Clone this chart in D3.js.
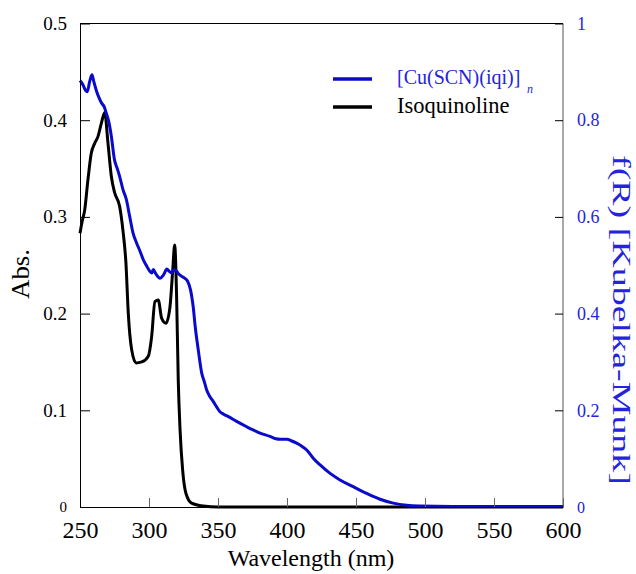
<!DOCTYPE html>
<html lang="en">
<head>
<meta charset="UTF-8">
<title>Abs / Kubelka-Munk spectra</title>
<script src="https://d3js.org/d3.v7.min.js"></script>
<style>
  body { margin: 0; background: #fff; }
</style>
</head>
<body>
<div id="chart"></div>
<script>
// isoquinoline absorbance (left axis)
const isoWl = [250, 251.5, 253.4, 255.8, 258.2, 260.6, 263, 265.5, 267.9, 270.3, 272.7, 275.1, 278.7, 281.2, 283.3, 285, 287.4, 290.6, 294.7, 299.5, 301.9, 304.3, 306.7, 309.2, 312.3, 315.2, 317.2, 318.6, 320, 321.2, 322.5, 324.4, 326.8, 330.9, 339.3, 350, 400, 450, 500, 550, 600];
const isoAbs = [0.283, 0.295, 0.307, 0.339, 0.366, 0.376, 0.383, 0.397, 0.408, 0.376, 0.342, 0.325, 0.311, 0.285, 0.252, 0.200, 0.163, 0.149, 0.150, 0.156, 0.176, 0.2125, 0.214, 0.195, 0.190, 0.207, 0.245, 0.271, 0.218, 0.131, 0.080, 0.038, 0.014, 0.004, 0.001, 0, 0, 0, 0, 0, 0];

// [Cu(SCN)(iqi)]n diffuse reflectance f(R) (right axis)
const cuWl = [250, 252, 254, 255.3, 257, 258.7, 260, 262, 264, 265.5, 267.5, 269, 271, 272.7, 275, 277, 278.7, 281.2, 283.6, 286, 288.4, 291, 293.5, 295.9, 298, 300.7, 302, 303.1, 305, 308, 310.5, 313, 314.5, 316.4, 318, 319.6, 321.5, 323.7, 326, 327.8, 330, 331, 332.2, 333.3, 335.7, 338.2, 340, 341.8, 344.2, 346.6, 349, 351.4, 354, 357.5, 363.5, 370.8, 375, 380.4, 387.7, 392, 395, 400, 403, 407, 410, 414.3, 419, 424, 431, 438.4, 448, 457.7, 467.4, 477, 486.7, 496, 520, 560, 600];
const cuKM = [0.882, 0.874, 0.862, 0.859, 0.880, 0.894, 0.880, 0.860, 0.845, 0.836, 0.828, 0.815, 0.795, 0.767, 0.718, 0.700, 0.684, 0.656, 0.636, 0.601, 0.567, 0.546, 0.529, 0.511, 0.500, 0.487, 0.484, 0.491, 0.482, 0.473, 0.480, 0.492, 0.488, 0.484, 0.490, 0.489, 0.482, 0.477, 0.473, 0.468, 0.450, 0.435, 0.410, 0.378, 0.325, 0.277, 0.260, 0.242, 0.228, 0.218, 0.207, 0.197, 0.192, 0.187, 0.177, 0.166, 0.160, 0.153, 0.146, 0.141, 0.140, 0.140, 0.137, 0.132, 0.127, 0.118, 0.101, 0.087, 0.070, 0.056, 0.042, 0.028, 0.016, 0.008, 0.0035, 0.002, 0.001, 0.001, 0.001];

const xTicks = [250, 300, 350, 400, 450, 500, 550, 600];
const leftTicks = [0, 0.1, 0.2, 0.3, 0.4, 0.5];
const rightTicks = [0, 0.2, 0.4, 0.6, 0.8, 1];

const width = 636, height = 574;
const blue = "#0a0acc", blueText = "#2424dc";
const serif = "'Liberation Serif', 'Times New Roman', Times, 'DejaVu Serif', serif";

const svg = d3.select("#chart").append("svg")
    .attr("width", width)
    .attr("height", height)
    .style("font-family", serif);

const x = d3.scaleLinear().domain([250, 600]).range([80, 563]);
const yL = d3.scaleLinear().domain([0, 0.5]).range([507, 23.5]);
const yR = d3.scaleLinear().domain([0, 1]).range([507, 23.5]);

// frame
svg.append("line").attr("x1", 80).attr("x2", 563).attr("y1", 23.5).attr("y2", 23.5).attr("stroke", "#000");
svg.append("line").attr("x1", 563).attr("x2", 563).attr("y1", 23.5).attr("y2", 507).attr("stroke", "#555");

// curves
const isoLine = d3.line().x(d => x(d[0])).y(d => yL(d[1])).curve(d3.curveMonotoneX);
const cuLine = d3.line().x(d => x(d[0])).y(d => yR(d[1])).curve(d3.curveMonotoneX);

svg.append("path")
    .datum(d3.zip(isoWl, isoAbs))
    .attr("fill", "none").attr("stroke", "#000").attr("stroke-width", 3)
    .attr("stroke-linejoin", "round")
    .attr("d", isoLine);

svg.append("path")
    .datum(d3.zip(cuWl, cuKM))
    .attr("fill", "none").attr("stroke", blue).attr("stroke-width", 3)
    .attr("stroke-linejoin", "round")
    .attr("d", cuLine);

// axes (ticks point inward)
const gx = svg.append("g").attr("transform", "translate(0,507)")
    .call(d3.axisBottom(x).tickValues(xTicks).tickSizeInner(-9).tickSizeOuter(0).tickPadding(14));
gx.select(".domain").attr("stroke", "#000");
gx.selectAll(".tick line").attr("stroke", "#666");
gx.selectAll(".tick text").attr("fill", "#000")
    .style("font-family", serif).style("font-size", "24px");

const gl = svg.append("g").attr("transform", "translate(80,0)")
    .call(d3.axisLeft(yL).tickValues(leftTicks).tickFormat(d => d === 0 ? "0" : d3.format(".1f")(d))
        .tickSizeInner(-10).tickSizeOuter(0).tickPadding(13));
gl.select(".domain").attr("stroke", "#000");
gl.selectAll(".tick line").attr("stroke", "#000");
gl.selectAll(".tick text").attr("fill", "#000")
    .style("font-family", serif).style("font-size", d => d === 0 ? "15px" : "19px");

const gr = svg.append("g").attr("transform", "translate(563,0)")
    .call(d3.axisRight(yR).tickValues(rightTicks).tickFormat(d => d === 0 || d === 1 ? String(d) : d3.format(".1f")(d))
        .tickSizeInner(-8).tickSizeOuter(0).tickPadding(14));
gr.select(".domain").remove();
gr.selectAll(".tick line").attr("stroke", "#000");
gr.selectAll(".tick text").attr("fill", blueText)
    .style("font-family", serif).style("font-size", d => d === 0 ? "16px" : "18px");

// axis titles
svg.append("text")
    .attr("x", 311).attr("y", 566)
    .attr("text-anchor", "middle").style("font-size", "24px")
    .text("Wavelength (nm)");

svg.append("text")
    .attr("transform", "translate(29,274) rotate(-90)")
    .attr("text-anchor", "middle").style("font-size", "25px")
    .attr("textLength", 50).attr("lengthAdjust", "spacingAndGlyphs")
    .text("Abs.");

svg.append("text")
    .attr("transform", "translate(613,320) rotate(90)")
    .attr("text-anchor", "middle").style("font-size", "25px").attr("fill", blueText)
    .attr("textLength", 330).attr("lengthAdjust", "spacingAndGlyphs")
    .text("f(R) [Kubelka-Munk]");

// legend
const legend = svg.append("g");
legend.append("line").attr("x1", 333).attr("x2", 372).attr("y1", 79).attr("y2", 79)
    .attr("stroke", blue).attr("stroke-width", 3.5);
legend.append("text").attr("x", 397).attr("y", 84).style("font-size", "20px").attr("fill", blueText)
    .text("[Cu(SCN)(iqi)]");
legend.append("text").attr("x", 527).attr("y", 93).style("font-size", "12px").attr("fill", blueText)
    .attr("font-style", "italic").text("n");
legend.append("line").attr("x1", 333).attr("x2", 372).attr("y1", 107).attr("y2", 107)
    .attr("stroke", "#000").attr("stroke-width", 3.5);
legend.append("text").attr("x", 397).attr("y", 113).style("font-size", "22.5px").attr("fill", "#000")
    .text("Isoquinoline");
</script>
</body>
</html>
